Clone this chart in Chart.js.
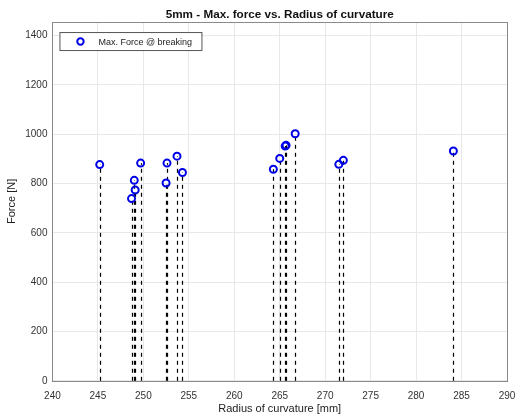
<!DOCTYPE html>
<html>
<head>
<meta charset="utf-8">
<script src="https://cdn.jsdelivr.net/npm/chart.js@4"></script>
<style>
    html, body { margin: 0; padding: 0; background: #fff; }
    #wrap { width: 516px; height: 417px; }
</style>
</head>
<body>
<div id="wrap"><canvas id="grafikGaya"></canvas></div>
<script>
// radius of curvature [mm] and max force at breaking [N]
const radius = [245.2, 248.7, 249.1, 249.0, 249.7, 252.5, 252.6, 253.7, 254.3,
    264.3, 265.0, 265.6, 265.7, 266.7, 271.5, 272.0, 284.1];
const force = [877, 739, 774, 813, 883, 802, 883, 911, 845,
    858, 902, 952, 955, 1002, 878, 894, 932];
const xTicks = [240, 245, 250, 255, 260, 265, 270, 275, 280, 285, 290];
const yTicks = [0, 200, 400, 600, 800, 1000, 1200, 1400];
const seriesLabel = 'Max. Force @ breaking';

const fontName = '"Liberation Sans", Arial, sans-serif';
const titik = radius.map(function (r, i) {
    return { x: r, y: force[i] };
});

// dashed stems from 0 up to each point + box + legend
const stemPlugin = {
    id: 'stem',
    beforeDatasetsDraw: function (chart) {
        const ctx = chart.ctx;
        const sx = chart.scales.x;
        const sy = chart.scales.y;
        ctx.save();
        ctx.strokeStyle = '#000';
        ctx.lineWidth = 1.2;
        ctx.setLineDash([4, 4]);
        titik.forEach(function (p) {
            let px = Math.round(sx.getPixelForValue(p.x)) + 0.5;
            ctx.beginPath();
            ctx.moveTo(px, sy.getPixelForValue(0));
            ctx.lineTo(px, sy.getPixelForValue(p.y));
            ctx.stroke();
        });
        ctx.restore();
    },
    afterDraw: function (chart) {
        const ctx = chart.ctx;
        const a = chart.chartArea;
        ctx.save();
        ctx.strokeStyle = '#8a8a8a';
        ctx.lineWidth = 1;
        ctx.strokeRect(Math.round(a.left) + 0.5, Math.round(a.top) + 0.5,
            Math.round(a.right - a.left), Math.round(a.bottom - a.top));

        // legend box
        let lx = a.left + 7, ly = a.top + 10;
        ctx.fillStyle = '#fff';
        ctx.fillRect(lx, ly, 142, 18);
        ctx.strokeStyle = '#555';
        ctx.strokeRect(lx + 0.5, ly + 0.5, 142, 18);
        ctx.beginPath();
        ctx.arc(lx + 21, ly + 9.5, 3.2, 0, Math.PI * 2);
        ctx.strokeStyle = '#0000e6';
        ctx.lineWidth = 2;
        ctx.stroke();
        ctx.fillStyle = '#222';
        ctx.font = '9px ' + fontName;
        ctx.textBaseline = 'middle';
        ctx.fillText(seriesLabel, lx + 39, ly + 10);
        ctx.restore();
    }
};

new Chart('grafikGaya', {
    type: 'scatter',
    data: {
        datasets: [{
            label: seriesLabel,
            data: titik,
            pointStyle: 'circle',
            pointRadius: 3.5,
            pointHoverRadius: 3.5,
            pointBorderWidth: 2,
            borderColor: '#0000e6',
            backgroundColor: 'rgba(255,255,255,0)'
        }]
    },
    options: {
        responsive: true,
        maintainAspectRatio: false,
        animation: false,
        layout: {
            padding: { left: 5, right: 9, top: 0, bottom: 1 }
        },
        plugins: {
            legend: { display: false },
            tooltip: { enabled: false },
            title: {
                display: true,
                fullSize: false,
                text: '5mm - Max. force vs. Radius of curvature',
                color: '#111',
                font: { family: fontName, size: 11.7, weight: 'bold' },
                padding: { top: 8, bottom: 0 }
            }
        },
        scales: {
            x: {
                type: 'linear',
                min: 240,
                max: 290,
                afterBuildTicks: function (axis) {
                    axis.ticks = xTicks.map(function (v) { return { value: v }; });
                },
                afterFit: function (axis) {
                    axis.paddingRight = 0;
                },
                grid: { color: '#e8e8e8', drawTicks: false },
                border: { display: false },
                ticks: {
                    color: '#333',
                    padding: 9,
                    maxRotation: 0,
                    font: { family: fontName, size: 10 },
                    callback: function (value) { return String(value); }
                },
                title: {
                    display: true,
                    text: 'Radius of curvature [mm]',
                    color: '#222',
                    padding: { top: -8, bottom: 0 },
                    font: { family: fontName, size: 11 }
                }
            },
            y: {
                min: 0,
                max: 1455,
                afterBuildTicks: function (axis) {
                    axis.ticks = yTicks.map(function (v) { return { value: v }; });
                },
                grid: { color: '#e8e8e8', drawTicks: false },
                border: { display: false },
                ticks: {
                    color: '#333',
                    padding: 5,
                    font: { family: fontName, size: 10 },
                    callback: function (value) { return String(value); }
                },
                title: {
                    display: true,
                    text: 'Force [N]',
                    color: '#222',
                    padding: { top: 0, bottom: 2 },
                    font: { family: fontName, size: 11 }
                }
            }
        }
    },
    plugins: [stemPlugin]
});
</script>
</body>
</html>
